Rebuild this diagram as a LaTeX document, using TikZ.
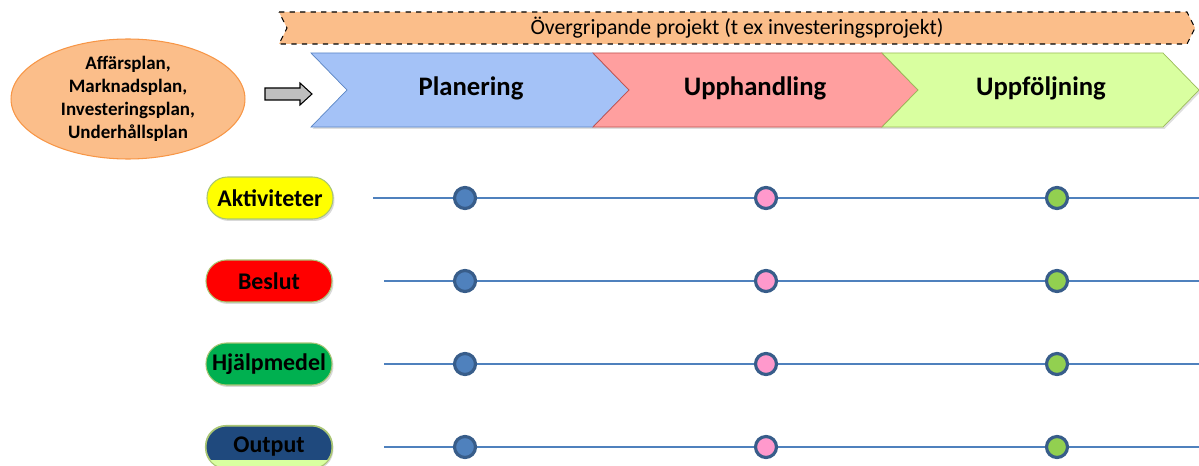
\documentclass[tikz,border=0pt]{standalone}
\usepackage{fontspec}
\setmainfont{Carlito}
\usetikzlibrary{shapes.geometric,shadows}

\definecolor{orangefill}{HTML}{FBBE8A}
\definecolor{orangeline}{HTML}{F79646}
\definecolor{planfill}{HTML}{A4C2F7}
\definecolor{planline}{HTML}{5B86C5}
\definecolor{upphfill}{HTML}{FF9F9F}
\definecolor{upphline}{HTML}{C0504D}
\definecolor{uppffill}{HTML}{D9FFA0}
\definecolor{uppfline}{HTML}{9BBB59}
\definecolor{rowline}{HTML}{4F81BD}
\definecolor{dotline}{HTML}{385D8A}
\definecolor{dotblue}{HTML}{4F81BD}
\definecolor{dotpink}{HTML}{FF99CC}
\definecolor{dotgreen}{HTML}{92D050}
\definecolor{pillyellow}{HTML}{FFFF00}
\definecolor{pillred}{HTML}{FF0000}
\definecolor{pillgreen}{HTML}{00B050}
\definecolor{pillnavy}{HTML}{1F497D}
\definecolor{pillrim}{HTML}{A9C574}

\tikzset{
  phase/.style={font=\fontsize{15.2}{17}\selectfont\bfseries},
  pill/.style={rectangle, rounded corners=0.41cm, draw=pillrim, line width=0.6pt,
    minimum width=2.52cm, minimum height=0.84cm, inner sep=0pt,
    font=\fontsize{13.6}{15}\selectfont\bfseries,
    drop shadow={shadow xshift=0.03cm, shadow yshift=-0.04cm, opacity=0.3}},
  dot/.style={circle, draw=dotline, line width=1.8pt, minimum size=0.42cm, inner sep=0pt},
  row/.style={draw=rowline, line width=0.75pt}
}

\begin{document}
\begin{tikzpicture}[x=0.02cm,y=-0.02cm]
\useasboundingbox (0,0) rectangle (1199,466);

% banner
\draw [black, dashed, line width=0.6pt, fill=orangefill] (279,12) -- (1187,12) -- (1195,28) -- (1187,44) -- (279,44) -- (287,28) -- cycle;
\node (proj) at (737,28) {\fontsize{12.4}{14}\selectfont Övergripande projekt (t ex investeringsprojekt)};

% phases
\draw [planline, fill=planfill, drop shadow={shadow xshift=0.03cm, shadow yshift=-0.04cm, opacity=0.25}] (311,53) -- (593,53) -- (629,90) -- (593,127) -- (311,127) -- (347,90) -- cycle;
\draw [upphline, fill=upphfill, drop shadow={shadow xshift=0.03cm, shadow yshift=-0.04cm, opacity=0.25}] (593,53) -- (882,53) -- (918,90) -- (882,127) -- (593,127) -- (629,90) -- cycle;
\draw [uppfline, fill=uppffill, drop shadow={shadow xshift=0.03cm, shadow yshift=-0.04cm, opacity=0.25}] (882,53) -- (1163,53) -- (1199,90) -- (1163,127) -- (882,127) -- (918,90) -- cycle;
\node [phase] (plan) at (471,88) {Planering};
\node [phase] (upph) at (755,88) {Upphandling};
\node [phase] (uppf) at (1041,88) {Uppföljning};

% input
\node [ellipse, draw=orangeline, fill=orangefill, line width=0.6pt, minimum width=4.68cm, minimum height=2.34cm, inner sep=0pt, align=center,
  font=\fontsize{10.8}{13}\selectfont\bfseries] (plans) at (128,99) {Affärsplan,\\Marknadsplan,\\Investeringsplan,\\Underhållsplan};
\draw [black, fill=black!25, line width=0.6pt] (265,88) -- (300,88) -- (300,83) -- (312,94) -- (300,105) -- (300,100) -- (265,100) -- cycle;

% rows
\node [pill, fill=pillyellow] (akt) at (270,198) {Aktiviteter};
\node [pill, fill=pillred] (bes) at (269,281) {Beslut};
\node [pill, fill=pillgreen] (hjm) at (269,364) {Hjälpmedel};
\node [pill, fill=pillnavy] (out) at (269,447) {};
\begin{scope}
  \clip [rounded corners=0.41cm] (out.south west) rectangle (out.north east);
  \fill [uppffill] (out.south west) rectangle ([yshift=0.18cm]out.south east);
\end{scope}
\draw [pillrim, line width=0.6pt, rounded corners=0.41cm] (out.south west) rectangle (out.north east);
\node [font=\fontsize{13.6}{15}\selectfont\bfseries] at (out) {Output};

\coordinate (akt0) at (373,198);
\coordinate (bes0) at (384,281);
\coordinate (hjm0) at (384,364);
\coordinate (out0) at (384,447);
\foreach \r/\y in {akt/198, bes/281, hjm/364, out/447} {
  \coordinate (\r9) at (1199,\y);
  \draw [row] (\r0) -- (\r9);
  \node [dot, fill=dotblue] (\r1) at (465,\y) {};
  \node [dot, fill=dotpink] (\r2) at (766,\y) {};
  \node [dot, fill=dotgreen] (\r3) at (1057,\y) {};
}
\end{tikzpicture}
\end{document}
